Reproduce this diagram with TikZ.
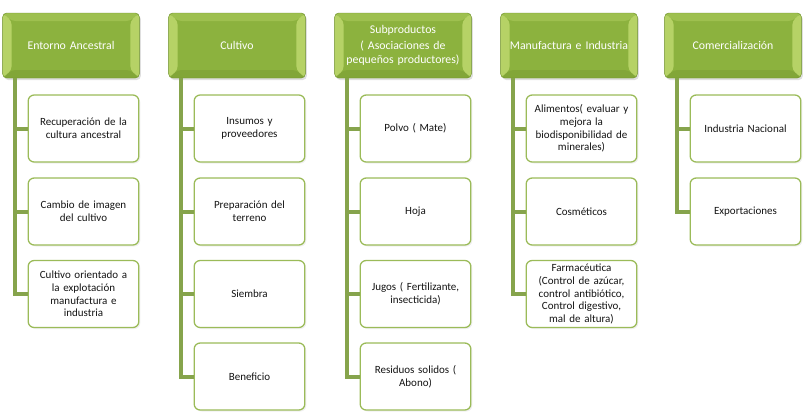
\documentclass[tikz,border=0pt]{standalone}
\usepackage{fontspec}
\setmainfont{Carlito}
\usetikzlibrary{shadows}
\definecolor{leaf}{RGB}{155,187,89}
\definecolor{leafglow}{RGB}{200,225,120}
\definecolor{leafmid}{RGB}{140,178,62}
\definecolor{leafdark}{RGB}{112,145,45}
\definecolor{leafline}{RGB}{134,164,76}
\definecolor{inktext}{RGB}{20,20,20}
\begin{document}
\begin{tikzpicture}[x=1pt, y=-1pt,
  header/.style={rectangle, draw=leafdark, rounded corners=4pt, fill=leafmid,
    minimum width=132pt, minimum height=65pt, text width=130pt,
    align=center, text=white, font=\fontsize{11.8}{14}\selectfont,
    drop shadow={opacity=0.25, shadow xshift=1.5pt, shadow yshift=-2pt},
    path picture={
      \fill[leafglow, opacity=0.7] (path picture bounding box.north west)
        -- ([xshift=9pt,yshift=-8pt]path picture bounding box.north west)
        -- ([xshift=9pt,yshift=8pt]path picture bounding box.south west)
        -- (path picture bounding box.south west) -- cycle;
      \fill[leafglow, opacity=0.7] (path picture bounding box.north east)
        -- ([xshift=-9pt,yshift=-8pt]path picture bounding box.north east)
        -- ([xshift=-9pt,yshift=8pt]path picture bounding box.south east)
        -- (path picture bounding box.south east) -- cycle;
      \fill[leafglow, opacity=0.3] (path picture bounding box.north west)
        -- ([xshift=9pt,yshift=-8pt]path picture bounding box.north west)
        -- ([xshift=-9pt,yshift=-8pt]path picture bounding box.north east)
        -- (path picture bounding box.north east) -- cycle;
      \fill[leafdark, opacity=0.35] (path picture bounding box.south west)
        -- ([xshift=9pt,yshift=8pt]path picture bounding box.south west)
        -- ([xshift=-9pt,yshift=8pt]path picture bounding box.south east)
        -- (path picture bounding box.south east) -- cycle;
    }},
  item/.style={rectangle, draw=leaf, line width=1.3pt, rounded corners=6pt,
    fill=white, minimum width=107pt, minimum height=67pt, text width=104pt,
    align=center, text=inktext, font=\fontsize{11}{12.8}\selectfont,
    drop shadow={opacity=0.12, shadow xshift=1.5pt, shadow yshift=-1.5pt}},
  trunk/.style={draw=leafline, line width=4pt}
]
  \useasboundingbox (0,0) rectangle (805,415);

  % Headers
  \node[header] (h1) at (71, 45.5) {Entorno Ancestral};
  \node[header] (h2) at (237, 45.5) {Cultivo};
  \node[header] (h3) at (403, 45.5) {Subproductos\\[2pt]( Asociaciones de\\pequeños productores)};
  \node[header] (h4) at (569, 45.5) {Manufactura e Industria};
  \node[header] (h5) at (733, 45.5) {Comercialización};

  % Entorno Ancestral
  \node[item] (e1) at (83.5, 128.5) {Recuperación de la\\cultura ancestral};
  \node[item] (e2) at (83.5, 211.5) {Cambio de imagen\\del cultivo};
  \node[item] (e3) at (83.5, 294) {Cultivo orientado a\\la explotación\\manufactura e\\industria};

  % Cultivo
  \node[item] (c1) at (249.5, 128.5) {Insumos y\\proveedores};
  \node[item] (c2) at (249.5, 211.5) {Preparación del\\terreno};
  \node[item] (c3) at (249.5, 294) {Siembra};
  \node[item] (c4) at (249.5, 376.5) {Beneficio};

  % Subproductos
  \node[item] (s1) at (415.5, 128.5) {Polvo ( Mate)};
  \node[item] (s2) at (415.5, 211.5) {Hoja};
  \node[item] (s3) at (415.5, 294) {Jugos ( Fertilizante,\\insecticida)};
  \node[item] (s4) at (415.5, 376.5) {Residuos solidos (\\Abono)};

  % Manufactura e Industria
  \node[item] (m1) at (581.5, 128.5) {Alimentos( evaluar y\\mejora la\\biodisponibilidad de\\minerales)};
  \node[item] (m2) at (581.5, 211.5) {Cosméticos};
  \node[item] (m3) at (581.5, 294) {Farmacéutica\\(Control de azúcar,\\control antibiótico,\\Control digestivo,\\mal de altura)};

  % Comercializacion
  \node[item] (k1) at (745.5, 128.5) {Industria Nacional};
  \node[item] (k2) at (745.5, 211.5) {Exportaciones};

  % Trunks and branches
  \draw[trunk] ([xshift=13pt]h1.south west) |- (e1.west);
  \draw[trunk] ([xshift=13pt]h1.south west) |- (e2.west);
  \draw[trunk] ([xshift=13pt]h1.south west) |- (e3.west);
  \draw[trunk] ([xshift=13pt]h2.south west) |- (c1.west);
  \draw[trunk] ([xshift=13pt]h2.south west) |- (c2.west);
  \draw[trunk] ([xshift=13pt]h2.south west) |- (c3.west);
  \draw[trunk] ([xshift=13pt]h2.south west) |- (c4.west);
  \draw[trunk] ([xshift=13pt]h3.south west) |- (s1.west);
  \draw[trunk] ([xshift=13pt]h3.south west) |- (s2.west);
  \draw[trunk] ([xshift=13pt]h3.south west) |- (s3.west);
  \draw[trunk] ([xshift=13pt]h3.south west) |- (s4.west);
  \draw[trunk] ([xshift=13pt]h4.south west) |- (m1.west);
  \draw[trunk] ([xshift=13pt]h4.south west) |- (m2.west);
  \draw[trunk] ([xshift=13pt]h4.south west) |- (m3.west);
  \draw[trunk] ([xshift=13pt]h5.south west) |- (k1.west);
  \draw[trunk] ([xshift=13pt]h5.south west) |- (k2.west);
\end{tikzpicture}
\end{document}
